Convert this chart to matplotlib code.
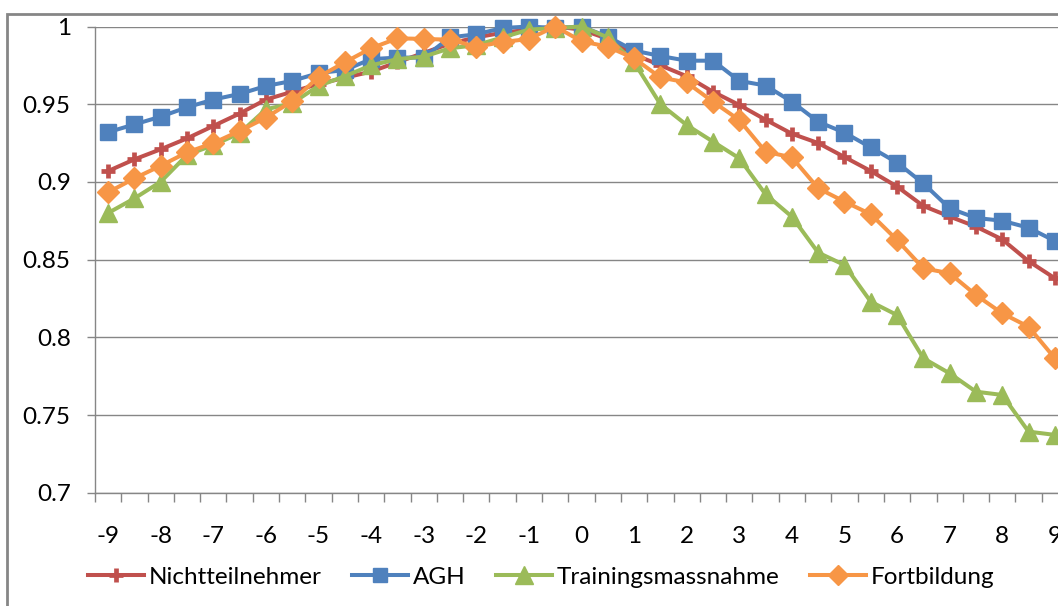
import matplotlib
matplotlib.use("Agg")
import matplotlib.pyplot as plt
from matplotlib.patches import Rectangle
import numpy as np

plt.rcParams['font.family'] = ['Lato', 'DejaVu Sans']

# ---- data ----
x_values = [-9, -8.5, -8, -7.5, -7, -6.5, -6, -5.5, -5, -4.5, -4, -3.5, -3, -2.5, -2, -1.5, -1, -0.5,
            0, 0.5, 1, 1.5, 2, 2.5, 3, 3.5, 4, 4.5, 5, 5.5, 6, 6.5, 7, 7.5, 8, 8.5, 9]

nichtteilnehmer = [0.907, 0.9145, 0.921, 0.928, 0.936, 0.944, 0.953, 0.958, 0.963, 0.967, 0.971,
                   0.977, 0.983, 0.989, 0.993, 0.996, 0.998, 1.0, 0.998, 0.992, 0.982, 0.975,
                   0.968, 0.958, 0.9495, 0.940, 0.931, 0.925, 0.916, 0.907, 0.897, 0.8845,
                   0.8777, 0.8712, 0.863, 0.849, 0.838]

agh = [0.932, 0.937, 0.942, 0.948, 0.953, 0.9566, 0.9617, 0.965, 0.970, 0.972, 0.979, 0.980,
       0.980, 0.993, 0.995, 0.999, 1.0, 0.999, 1.0, 0.9934, 0.9845, 0.981, 0.978, 0.978, 0.965,
       0.962, 0.9516, 0.9387, 0.9317, 0.9222, 0.9124, 0.899, 0.883, 0.8768, 0.875, 0.8705, 0.862]

trainingsmassnahme = [0.880, 0.8894, 0.9001, 0.9173, 0.9237, 0.9313, 0.9467, 0.9506, 0.9618,
                      0.968, 0.975, 0.979, 0.9806, 0.986, 0.988, 0.993, 0.998, 0.999, 1.0, 0.993,
                      0.977, 0.950, 0.9366, 0.9259, 0.9152, 0.892, 0.8776, 0.8545, 0.8465,
                      0.8229, 0.8143, 0.7865, 0.7768, 0.765, 0.7629, 0.7393, 0.7372]

fortbildung = [0.8933, 0.9023, 0.9104, 0.919, 0.925, 0.9328, 0.9413, 0.952, 0.9675, 0.977,
               0.986, 0.9924, 0.992, 0.9915, 0.987, 0.990, 0.992, 1.0, 0.9905, 0.987, 0.9795,
               0.9672, 0.964, 0.9516, 0.9398, 0.9194, 0.9158, 0.8959, 0.8873, 0.8792, 0.8626,
               0.8444, 0.8412, 0.8272, 0.8154, 0.8068, 0.7865]

series_names = ["Nichtteilnehmer", "AGH", "Trainingsmassnahme", "Fortbildung"]
y_ticks = [0.7, 0.75, 0.8, 0.85, 0.9, 0.95, 1.0]

# ---- figure ----
W, H = 1058, 606
fig = plt.figure(figsize=(W / 100, H / 100), dpi=100)
fig.patch.set_facecolor('white')

left_px, right_px, top_px, bottom_px = 95, 1068, 26.5, 492.7
ax = fig.add_axes([left_px / W, (H - bottom_px) / H,
                   (right_px - left_px) / W, (bottom_px - top_px) / H])

grid_col = '#868686'
idx = np.arange(len(x_values))
FS = 17.5

styles = [
    dict(color='#C0504D', marker='+', ms=10.5, mew=3.4),
    dict(color='#4F81BD', marker='s', ms=11, mew=1),
    dict(color='#9BBB59', marker='^', ms=13, mew=1),
    dict(color='#F79646', marker='D', ms=11, mew=1),
]
data = [nichtteilnehmer, agh, trainingsmassnahme, fortbildung]
handles = []
for name, vals, st in zip(series_names, data, styles):
    h, = ax.plot(idx, vals, color=st['color'], lw=2.9, marker=st['marker'],
                 markersize=st['ms'], markeredgewidth=st['mew'],
                 markerfacecolor=st['color'], markeredgecolor=st['color'],
                 clip_on=False, label=name, solid_joinstyle='round')
    handles.append(h)

ax.set_xlim(-0.5, len(x_values) - 0.5)
ax.set_ylim(0.7, 1.0)

# y axis
ax.set_yticks(y_ticks)
ax.set_yticklabels([f"{v:g}" for v in y_ticks])
ax.yaxis.grid(True, color=grid_col, lw=1.0)
ax.set_axisbelow(True)
ax.tick_params(axis='y', direction='out', length=5.5, width=1, color=grid_col,
               labelsize=FS, pad=12)

# x axis: labels every 2nd category, tick marks at category boundaries
ax.set_xticks(idx[::2])
ax.set_xticklabels([f"{v:g}" for v in x_values[::2]])
ax.set_xticks(np.arange(-0.5, len(x_values) - 0.5, 1.0), minor=True)
ax.tick_params(axis='x', which='major', length=0, labelsize=FS, pad=24)
ax.tick_params(axis='x', which='minor', direction='out', length=6.5, width=1, color=grid_col)

for s in ['top', 'right']:
    ax.spines[s].set_visible(False)
for s in ['left', 'bottom']:
    ax.spines[s].set_color(grid_col)
    ax.spines[s].set_linewidth(1.0)

# legend
leg = fig.legend(handles=handles, labels=series_names, loc='center',
                 bbox_to_anchor=(541 / W, (H - 577) / H), ncol=4, frameon=False,
                 fontsize=FS, numpoints=1, handlelength=2.3, handletextpad=0.2,
                 columnspacing=1.25, markerscale=0.95)

# outer chart border (cut by image edge)
fig.patches.append(Rectangle((7 / W, -0.1), 1.2, 1.1 - 14 / H, transform=fig.transFigure,
                             fill=False, edgecolor='#868686', lw=2.0, zorder=0))

fig.savefig('out.png', dpi=100, facecolor='white')
